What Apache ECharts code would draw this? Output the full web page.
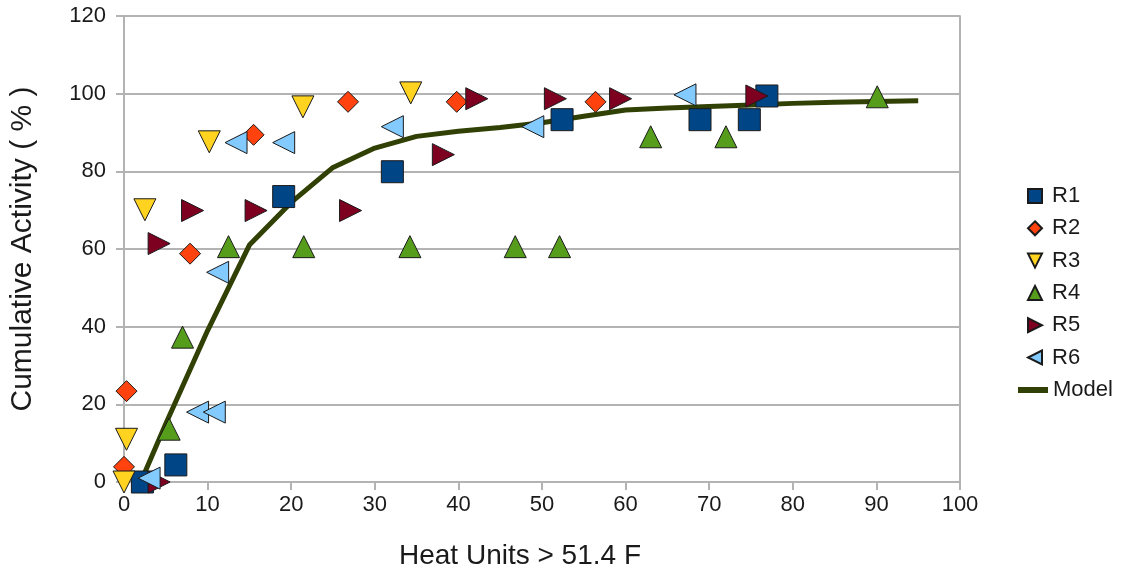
<!DOCTYPE html>
<html>
<head>
<meta charset="utf-8">
<script src="https://cdn.jsdelivr.net/npm/echarts@6/dist/echarts.min.js"></script>
<style>html,body{margin:0;padding:0;background:#fff}#c{width:1123px;height:575px}</style>
</head>
<body>
<div id="c"></div>
<script>
// Data: [heat units, cumulative activity %]
const R1 = [[2.2,0],[6.2,4.4],[19.1,73.5],[32.1,79.9],[52.4,93.3],[68.9,93.3],[74.8,93.3],[76.9,99.4]];
const R2 = [[0.3,23.4],[0,3.9],[7.9,58.8],[15.5,89.4],[26.8,97.9],[39.8,97.9],[56.4,97.9]];
const R3 = [[0,0],[0.3,11],[2.5,70.1],[10.2,87.6],[21.4,96.6],[34.3,100.2]];
const R4 = [[5.4,13.6],[7.0,37.3],[12.5,60.6],[21.5,60.6],[34.2,60.6],[46.8,60.6],[52.1,60.6],[63,88.9],[72,88.9],[90.1,99.2]];
const R5 = [[4.2,0],[4.2,61.4],[8.2,69.9],[15.8,69.9],[27.1,69.9],[38.2,84.3],[42.2,98.7],[51.6,98.7],[59.4,98.7],[75.7,99.4]];
const R6 = [[3,1],[8.8,18],[10.8,18],[11.2,54],[13.4,87.4],[19.1,87.4],[32.1,91.5],[48.9,91.5],[67.1,99.7]];
const modelX = [2,5,10,15,20,25,30,35,40,45,50,55,60,65,70,75,80,85,90,95];
const modelY = [0,15,39,61,72,81,86,89,90.3,91.3,92.5,94.2,95.8,96.3,96.7,97.1,97.5,97.8,98,98.2];
const xAxisName = 'Heat Units > 51.4 F';
const yAxisName = 'Cumulative Activity ( % )';

const FONT = 'Liberation Sans';
const border = {borderColor:'#1a1a1a', borderWidth:1};
function sc(name, data, color, symbol, rot, size){
  return {name, type:'scatter', data, symbol, symbolRotate:rot, symbolSize:size, clip:false, z:3,
    itemStyle:Object.assign({color, opacity:1}, border),
    emphasis:{disabled:true}};
}
const ICON_DOWN = 'path://M0,0 L10,0 L5,10 Z';
const ICON_UP = 'path://M5,0 L10,10 L0,10 Z';
const ICON_RIGHT = 'path://M0,0 L10,5 L0,10 Z';
const ICON_LEFT = 'path://M10,0 L0,5 L10,10 Z';
const axisGray = '#b3b3b3';
const chart = echarts.init(document.getElementById('c'), null, {renderer:'canvas'});
chart.setOption({
  animation:false,
  backgroundColor:'#ffffff',
  textStyle:{fontFamily:FONT},
  grid:{left:123, right:163, top:16, bottom:92, containLabel:false},
  xAxis:{type:'value', min:0, max:100, interval:10,
    name:xAxisName, nameLocation:'middle', nameGap:60,
    nameTextStyle:{fontSize:28, color:'#1a1a1a', fontFamily:FONT, padding:[0,44,0,0]},
    axisLine:{show:true, onZero:false, lineStyle:{color:axisGray, width:2}},
    axisTick:{show:true, length:8, lineStyle:{color:axisGray, width:2}},
    axisLabel:{fontSize:22, color:'#1a1a1a', margin:12, fontFamily:FONT},
    splitLine:{show:false}},
  yAxis:[{type:'value', min:0, max:120, interval:20,
    name:yAxisName, nameLocation:'middle', nameGap:86,
    nameTextStyle:{fontSize:30, color:'#1a1a1a', fontFamily:FONT},
    axisLine:{show:true, onZero:false, lineStyle:{color:axisGray, width:2}},
    axisTick:{show:true, length:8, lineStyle:{color:axisGray, width:2}},
    axisLabel:{fontSize:22, color:'#1a1a1a', margin:18, fontFamily:FONT},
    splitLine:{show:true, lineStyle:{color:axisGray, width:2}}},
   {type:'value', position:'right', min:0, max:120, interval:20,
    axisLine:{show:true, onZero:false, lineStyle:{color:axisGray, width:2}},
    axisTick:{show:false}, axisLabel:{show:false}, splitLine:{show:false}}],
  legend:[
    {orient:'vertical', left:1022, top:180, itemWidth:14, itemHeight:14, itemGap:10.3,
     textStyle:{fontSize:22, color:'#1a1a1a', fontFamily:FONT, padding:[0,0,0,5]},
     data:[{name:'R1', icon:'rect'},{name:'R2', icon:'diamond'},{name:'R3', icon:ICON_DOWN},
           {name:'R4', icon:ICON_UP},{name:'R5', icon:ICON_RIGHT},{name:'R6', icon:ICON_LEFT}]},
    {orient:'vertical', left:1013, top:374, itemWidth:30, itemHeight:6,
     textStyle:{fontSize:22, color:'#1a1a1a', fontFamily:FONT},
     data:[{name:'Model', icon:'rect'}]}
  ],
  series:[
    sc('R1', R1, '#004586', 'rect', 0, 22),
    sc('R2', R2, '#ff420e', 'diamond', 0, 21),
    sc('R3', R3, '#ffd320', 'triangle', 180, 22),
    sc('R4', R4, '#579d1c', 'triangle', 0, 22),
    sc('R5', R5, '#7e0021', 'triangle', -90, 22),
    sc('R6', R6, '#83caff', 'triangle', 90, 22),
    {name:'Model', type:'line', z:2, symbol:'none', showSymbol:false,
      data:modelX.map((x,i)=>[x, modelY[i]]),
      lineStyle:{color:'#314004', width:5}, itemStyle:{color:'#314004'}}
  ]
});
</script>
</body>
</html>
